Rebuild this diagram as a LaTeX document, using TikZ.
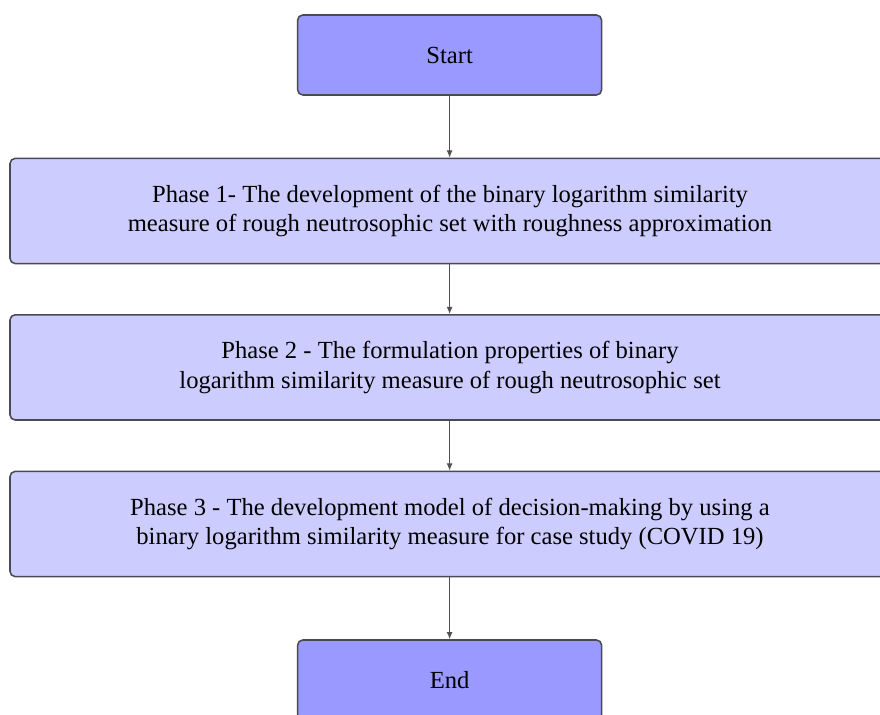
\documentclass[tikz,border=0pt]{standalone}
\usepackage{xcolor}
\usepackage{tikz}
\usepackage{fontspec}
\setmainfont{Liberation Serif}
\usetikzlibrary{shapes.geometric, arrows.meta, positioning, calc}
\definecolor{termfill}{HTML}{9999FF}
\definecolor{phasefill}{HTML}{CCCCFF}
\definecolor{boxline}{HTML}{4A4A55}
\definecolor{flowline}{HTML}{505050}

\begin{document}
\begin{tikzpicture}[
    term/.style={rectangle, rounded corners=1.3mm, draw=boxline, line width=1.1pt, fill=termfill, minimum width=7.6cm, minimum height=2cm, font=\fontsize{17.5}{21}\selectfont},
    phase/.style={rectangle, rounded corners=1.3mm, draw=boxline, line width=1.1pt, fill=phasefill, minimum width=22cm, minimum height=2.63cm, align=center, font=\fontsize{17.5}{21}\selectfont},
    arrow/.style={-{Latex[length=1.8mm, width=1.5mm]}, line width=0.8pt, color=flowline}
]

\useasboundingbox (0,0) rectangle (22,17.875);
\clip (0,0) rectangle (22,17.875);

% Terminal boxes
\node[term] (start) at (11.24,16.5) {Start};
\node[term] (finish) at (11.24,0.875) {End};

% Phase boxes
\node[phase] (ph1) at (11.25,12.6) {Phase 1- The development of the binary logarithm similarity\\measure of rough neutrosophic set with roughness approximation};
\node[phase] (ph2) at (11.25,8.69) {Phase 2 - The formulation properties of binary\\logarithm similarity measure of rough neutrosophic set};
\node[phase] (ph3) at (11.25,4.775) {Phase 3 - The development model of decision-making by using a\\binary logarithm similarity measure for case study (COVID 19)};

% Flow arrows
\draw[arrow] (start) -- (start |- ph1.north);
\draw[arrow] (ph1.south -| start) -- (start |- ph2.north);
\draw[arrow] (ph2.south -| start) -- (start |- ph3.north);
\draw[arrow] (ph3.south -| start) -- (finish);

\end{tikzpicture}
\end{document}
